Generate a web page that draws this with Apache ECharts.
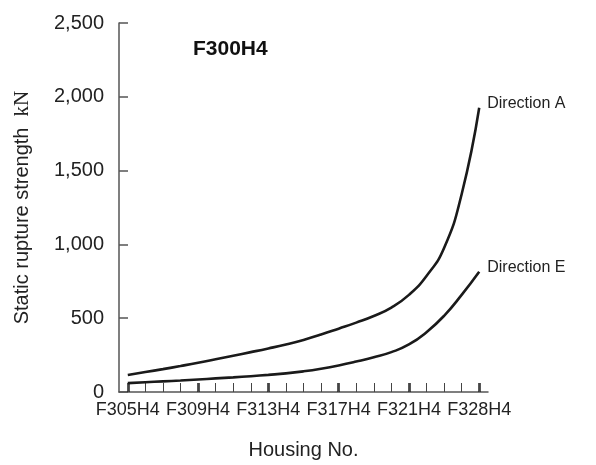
<!DOCTYPE html>
<html>
<head>
<meta charset="utf-8">
<script src="https://cdn.jsdelivr.net/npm/echarts@6/dist/echarts.min.js"></script>
<style>
  html, body { margin: 0; padding: 0; background: #fff; }
  #chart { width: 596px; height: 465px; }
</style>
</head>
<body>
<div id="chart"></div>
<script>
  // housing numbers along x axis
  let housingNo = ['F305H4','F306H4','F307H4','F308H4','F309H4','F310H4','F311H4','F312H4','F313H4','F314H4',
                   'F315H4','F316H4','F317H4','F318H4','F319H4','F320H4','F321H4','F322H4','F324H4','F326H4','F328H4']
  // static rupture strength, kN
  let directionA = [115,135,155,176,198,222,246,270,295,322,353,389,429,470,515,572,658,786,975,1340,1926]
  let directionE = [60,66,72,78,85,92,99,107,116,126,140,158,180,206,235,270,322,405,516,658,815]
  let yTicks = [0, 2500, 500]

  let chart = echarts.init(document.getElementById('chart'))
  let font = 'Liberation Sans, Arial, sans-serif'

  let lineStyle = { color: '#1a1a1a', width: 2.6 }

  let option = {
    animation: false,
    textStyle: { fontFamily: font },
    title: {
      text: 'F300H4',
      left: 188,
      top: 34,
      textStyle: { fontFamily: font, fontWeight: 'bold', fontSize: 21, color: '#111' }
    },
    grid: { left: 119, right: 108, top: 23, bottom: 73 },
    xAxis: [
      {
        type: 'category',
        data: housingNo,
        boundaryGap: true,
        name: 'Housing No.',
        nameLocation: 'middle',
        nameGap: 48,
        nameTextStyle: { fontSize: 20, color: '#222', fontFamily: font },
        axisLine: { lineStyle: { color: '#555', width: 1.5 } },
        axisTick: { show: true, inside: true, length: 9, interval: 3, alignWithLabel: true, lineStyle: { color: '#222', width: 2.5 } },
        axisLabel: { interval: 3, fontSize: 18, color: '#222', margin: 9, fontFamily: font },
        splitLine: { show: false }
      },
      {
        type: 'category',
        data: housingNo,
        boundaryGap: true,
        position: 'bottom',
        axisLine: { show: false },
        axisTick: { show: true, inside: true, length: 9, interval: 0, alignWithLabel: true, lineStyle: { color: '#444', width: 1 } },
        axisLabel: { show: false },
        splitLine: { show: false }
      }
    ],
    yAxis: {
      type: 'value',
      min: yTicks[0],
      max: yTicks[1],
      interval: yTicks[2],
      name: '{a|Static rupture strength  }{b|kN}',
      nameLocation: 'middle',
      nameGap: 86,
      nameTextStyle: {
        rich: {
          a: { fontSize: 20, color: '#222', fontFamily: font },
          b: { fontSize: 21, color: '#222', fontFamily: 'Liberation Serif, serif' }
        }
      },
      axisLine: { show: true, lineStyle: { color: '#555', width: 1.5 } },
      axisTick: { show: true, inside: true, length: 9, lineStyle: { color: '#555', width: 1.5 } },
      axisLabel: {
        fontSize: 20,
        color: '#222',
        margin: 15,
        fontFamily: font,
        formatter: (v) => v.toLocaleString('en-US')
      },
      splitLine: { show: false }
    },
    series: [
      {
        name: 'Direction A',
        type: 'line',
        data: directionA,
        smooth: 0.5,
        showSymbol: false,
        lineStyle: lineStyle,
        endLabel: { show: true, formatter: 'Direction A', fontSize: 16, color: '#222', distance: 8, offset: [0, -4], fontFamily: font }
      },
      {
        name: 'Direction E',
        type: 'line',
        data: directionE,
        smooth: 0.5,
        showSymbol: false,
        lineStyle: lineStyle,
        endLabel: { show: true, formatter: 'Direction E', fontSize: 16, color: '#222', distance: 8, offset: [0, -4], fontFamily: font }
      }
    ]
  }
  chart.setOption(option)
</script>
</body>
</html>
